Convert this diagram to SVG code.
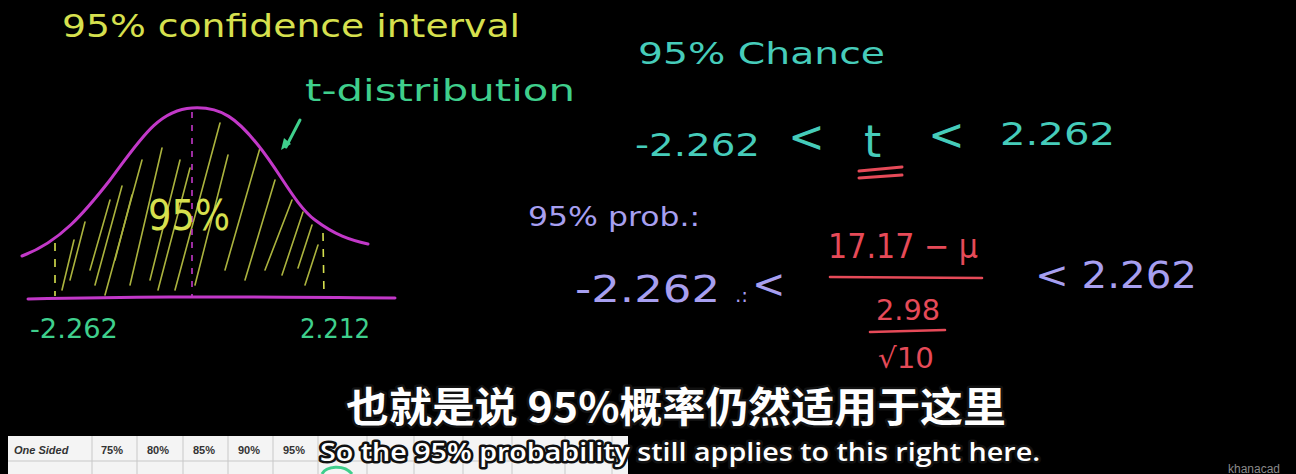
<svg xmlns="http://www.w3.org/2000/svg" width="1296" height="474" viewBox="0 0 1296 474">
<style>
.hw{font-family:"DejaVu Sans","Liberation Sans",sans-serif;font-weight:normal}
.yel{fill:#d6e04e}
.grn{fill:#3fcf8c}
.cyn{fill:#46ccba}
.lav{fill:#a79ff0}
.red{fill:#e64a58}
.sub{font-family:"Noto Sans CJK SC","Noto Sans",sans-serif;font-weight:bold;fill:#ffffff;stroke:#111;stroke-width:5;paint-order:stroke;stroke-linejoin:round}
.tab{font-family:"Liberation Sans",sans-serif;font-weight:bold;font-size:11px;fill:#333}
</style>
<rect width="1296" height="474" fill="#000"/>

<g id="title">
<text class="hw yel" x="62" y="37" font-size="32" textLength="458" lengthAdjust="spacingAndGlyphs">95% confidence interval</text>
</g>

<g id="tdist-label">
<text class="hw grn" x="305" y="101" font-size="30" textLength="270" lengthAdjust="spacingAndGlyphs">t-distribution</text>
<path d="M300,120 L286,147" stroke="#3fcf8c" stroke-width="3" fill="none" stroke-linecap="round"/>
<path d="M281,150 L284,138 L291,144 Z" fill="#3fcf8c"/>
</g>

<g id="bell-curve">
<g stroke="#d6e04e" stroke-width="1.6" stroke-linecap="round" opacity="0.8">
<line x1="62" y1="290" x2="74" y2="240"/>
<line x1="70" y1="280" x2="85" y2="222"/>
<line x1="95" y1="285" x2="122" y2="186"/>
<line x1="105" y1="295" x2="142" y2="160"/>
<line x1="130" y1="285" x2="162" y2="148"/>
<line x1="150" y1="280" x2="180" y2="160"/>
<line x1="158" y1="290" x2="190" y2="168"/>
<line x1="175" y1="290" x2="220" y2="123"/>
<line x1="195" y1="285" x2="228" y2="155"/>
<line x1="225" y1="270" x2="260" y2="148"/>
<line x1="245" y1="280" x2="275" y2="180"/>
<line x1="265" y1="270" x2="292" y2="200"/>
<line x1="282" y1="275" x2="303" y2="212"/>
<line x1="298" y1="268" x2="312" y2="225"/>
<line x1="305" y1="285" x2="318" y2="245"/>
<line x1="90" y1="270" x2="110" y2="200"/>
<line x1="115" y1="260" x2="132" y2="195"/>
</g>
<path d="M22,256 C60,242 85,212 110,180 C140,140 158,110 192,108 C222,106 238,120 258,145 C280,172 295,205 315,220 C335,235 350,240 368,244" fill="none" stroke="#c238c8" stroke-width="3" stroke-linecap="round"/>
<path d="M28,299 C120,297 190,296 395,298" fill="none" stroke="#c238c8" stroke-width="3" stroke-linecap="round"/>
<line x1="192" y1="112" x2="192" y2="296" stroke="#c238c8" stroke-width="1.6" stroke-dasharray="6 7"/>
<line x1="55" y1="243" x2="55" y2="296" stroke="#d6e04e" stroke-width="1.6" stroke-dasharray="8 8"/>
<line x1="323" y1="233" x2="324" y2="297" stroke="#d6e04e" stroke-width="1.6" stroke-dasharray="8 8"/>
<text class="hw yel" x="148" y="230" font-size="42" textLength="82" lengthAdjust="spacingAndGlyphs">95%</text>
<text class="hw grn" x="30" y="338" font-size="27" textLength="88" lengthAdjust="spacingAndGlyphs">-2.262</text>
<text class="hw grn" x="300" y="338" font-size="27" textLength="70" lengthAdjust="spacingAndGlyphs">2.212</text>
</g>

<g id="chance">
<text class="hw cyn" x="638" y="64" font-size="30" textLength="247" lengthAdjust="spacingAndGlyphs">95% Chance</text>
<text class="hw cyn" x="635" y="156" font-size="32" textLength="125" lengthAdjust="spacingAndGlyphs">-2.262</text>
<text class="hw cyn" x="788" y="152" font-size="44">&lt;</text>
<text class="hw cyn" x="864" y="157" font-size="44">t</text>
<text class="hw cyn" x="928" y="150" font-size="44">&lt;</text>
<text class="hw cyn" x="1000" y="145" font-size="32" textLength="115" lengthAdjust="spacingAndGlyphs">2.262</text>
<line x1="859" y1="171" x2="902" y2="167" stroke="#e64a58" stroke-width="3" stroke-linecap="round"/>
<line x1="859" y1="178" x2="902" y2="175" stroke="#e64a58" stroke-width="3" stroke-linecap="round"/>
</g>

<g id="prob">
<text class="hw lav" x="528" y="226" font-size="26" textLength="172" lengthAdjust="spacingAndGlyphs">95% prob.:</text>
<text class="hw lav" x="575" y="302" font-size="38" textLength="145" lengthAdjust="spacingAndGlyphs">-2.262</text>
<text class="hw lav" x="735" y="302" font-size="20">.:</text>
<text class="hw lav" x="752" y="298" font-size="40">&lt;</text>
<text class="hw red" x="828" y="258" font-size="34" textLength="150" lengthAdjust="spacingAndGlyphs">17.17 − μ</text>
<line x1="830" y1="277" x2="982" y2="278" stroke="#e64a58" stroke-width="2.6" stroke-linecap="round"/>
<text class="hw red" x="876" y="320" font-size="28" textLength="64" lengthAdjust="spacingAndGlyphs">2.98</text>
<line x1="870" y1="332" x2="945" y2="330" stroke="#e64a58" stroke-width="2.6" stroke-linecap="round"/>
<text class="hw red" x="878" y="368" font-size="28" textLength="56" lengthAdjust="spacingAndGlyphs">√10</text>
<text class="hw lav" x="1035" y="288" font-size="38" textLength="162" lengthAdjust="spacingAndGlyphs">&lt; 2.262</text>
</g>

<g id="table">
<rect x="8" y="436" width="620" height="40" fill="#f4f4f4"/>
<g stroke="#c8c8c8" stroke-width="1">
<line x1="8" y1="461" x2="628" y2="461"/>
<line x1="92" y1="436" x2="92" y2="474"/>
<line x1="137" y1="436" x2="137" y2="474"/>
<line x1="183" y1="436" x2="183" y2="474"/>
<line x1="228" y1="436" x2="228" y2="474"/>
<line x1="273" y1="436" x2="273" y2="474"/>
<line x1="318" y1="436" x2="318" y2="474"/>
<line x1="367" y1="436" x2="367" y2="474"/>
<line x1="414" y1="436" x2="414" y2="474"/>
<line x1="463" y1="436" x2="463" y2="474"/>
<line x1="512" y1="436" x2="512" y2="474"/>
<line x1="565" y1="436" x2="565" y2="474"/>
<line x1="612" y1="436" x2="612" y2="474"/>
</g>
<text class="tab" x="14" y="454" font-style="italic">One Sided</text>
<text class="tab" x="101" y="454">75%</text>
<text class="tab" x="147" y="454">80%</text>
<text class="tab" x="193" y="454">85%</text>
<text class="tab" x="238" y="454">90%</text>
<text class="tab" x="283" y="454">95%</text>
<path d="M322,474 C326,466 344,464 352,474" fill="none" stroke="#3fcf8c" stroke-width="3"/>
</g>

<g id="subtitles">
<text class="sub" x="346" y="422" font-size="41" textLength="660" lengthAdjust="spacingAndGlyphs">也就是说 95%概率仍然适用于这里</text>
<text class="sub" x="320" y="461" font-size="26" textLength="720" lengthAdjust="spacingAndGlyphs" style="font-family:'Open Sans','Noto Sans',sans-serif;font-weight:600">So the 95% probability still applies to this right here.</text>
</g>

<g id="watermark">
<text x="1228" y="473" font-family="'Liberation Sans',sans-serif" font-size="12" fill="#8a8a8a">khanacad</text>
</g>
</svg>
